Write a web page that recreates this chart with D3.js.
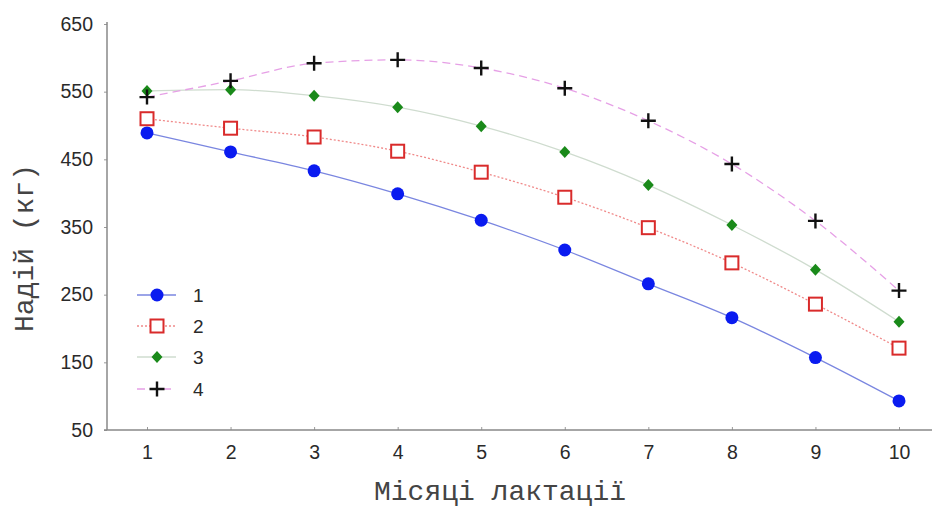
<!DOCTYPE html>
<html><head><meta charset="utf-8">
<script src="https://cdn.jsdelivr.net/npm/d3@7"></script>
<style>body{margin:0;background:#fff}svg{display:block}</style>
</head><body><svg id="c" width="932" height="510"></svg>
<script>
const months = [1,2,3,4,5,6,7,8,9,10];
const s1 = [489,461,433,399,360,316,266,216,157,93];
const s2 = [510,496,483,462,431,394,349,297,236,171];
const s3 = [551,553,544,527,499,461,412,353,287,210];
const s4 = [542,566,592,597,585,555,507,443,359,256];
const seriesNames = ["1","2","3","4"];
const yTicks = [50,150,250,350,450,550,650];
const yLabel = "Надій (кг)";
const xLabel = "Місяці лактації";

const svg = d3.select("#c");
const x = d3.scaleLinear().domain([1,10]).range([147,899]);
const y = d3.scaleLinear().domain([50,650]).range([430,24]);

// axes
const ax = svg.append("g").attr("transform","translate(107,0)")
  .call(d3.axisLeft(y).tickValues(yTicks).tickSize(3).tickPadding(11));
const bx = svg.append("g").attr("transform","translate(0,430)")
  .call(d3.axisBottom(x).tickValues(months).tickSize(-3).tickPadding(15));
[ax,bx].forEach(g=>{
  g.selectAll("text").attr("font-family","Liberation Sans, Arial, sans-serif").attr("font-size",19.5).attr("fill","#2a2a2a");
  g.selectAll("line").attr("stroke","#999");
  g.select(".domain").remove();
});
svg.append("line").attr("x1",107).attr("x2",107).attr("y1",22).attr("y2",430).attr("stroke","#888").attr("stroke-width",1.5);
svg.append("line").attr("x1",104).attr("x2",932).attr("y1",430).attr("y2",430).attr("stroke","#888").attr("stroke-width",1.5);

const styles = [
  {data:s1, stroke:"#7a86e0", dash:null, w:1.3, marker:"circle", color:"#0a1bf0"},
  {data:s2, stroke:"#f08a8a", dash:"2,2", w:1.3, marker:"square", color:"#d92b2b"},
  {data:s3, stroke:"#cfdccf", dash:null, w:1.3, marker:"diamond", color:"#1a8a1a"},
  {data:s4, stroke:"#e6a0e6", dash:"8,5", w:1.3, marker:"plus", color:"#111"}
];
const line = d3.line().x(d=>x(d[0])).y(d=>y(d[1])).curve(d3.curveMonotoneX);

function drawMarker(g, type, cx, cy, color){
  if(type==="circle") g.append("circle").attr("cx",cx).attr("cy",cy).attr("r",6.5).attr("fill",color);
  else if(type==="square") g.append("rect").attr("x",cx-6.5).attr("y",cy-6.5).attr("width",13).attr("height",13).attr("fill","#fff").attr("stroke",color).attr("stroke-width",2);
  else if(type==="diamond") g.append("path").attr("d",`M${cx},${cy-6}L${cx+5.5},${cy}L${cx},${cy+6}L${cx-5.5},${cy}Z`).attr("fill",color);
  else if(type==="plus") g.append("path").attr("d",`M${cx-7.5},${cy}H${cx+7.5}M${cx},${cy-7.5}V${cy+7.5}`).attr("stroke",color).attr("stroke-width",2.4).attr("fill","none");
}

styles.forEach(s=>{
  const pts = months.map((m,i)=>[m,s.data[i]]);
  svg.append("path").attr("d",line(pts)).attr("fill","none").attr("stroke",s.stroke)
    .attr("stroke-width",s.w).attr("stroke-dasharray",s.dash);
});
styles.forEach(s=>{
  const g = svg.append("g");
  months.forEach((m,i)=>drawMarker(g,s.marker,x(m),y(s.data[i]),s.color));
});

// legend
const ly = [295,326,357,389];
styles.forEach((s,i)=>{
  const g = svg.append("g");
  g.append("line").attr("x1",137).attr("x2",176).attr("y1",ly[i]).attr("y2",ly[i])
    .attr("stroke",s.stroke).attr("stroke-width",1.3).attr("stroke-dasharray",s.dash);
  drawMarker(g,s.marker,157,ly[i],s.color);
  g.append("text").attr("x",193).attr("y",ly[i]+7).text(seriesNames[i])
    .attr("font-family","Liberation Sans, Arial, sans-serif").attr("font-size",19).attr("fill","#2a2a2a");
});

svg.append("text").attr("transform","translate(33,248) rotate(-90)").attr("text-anchor","middle")
  .attr("font-family","Liberation Mono, Courier New, monospace").attr("font-size",28).attr("fill","#444").text(yLabel);
svg.append("text").attr("x",500).attr("y",500).attr("text-anchor","middle")
  .attr("font-family","Liberation Mono, Courier New, monospace").attr("font-size",28).attr("fill","#444").text(xLabel);
</script></body></html>
